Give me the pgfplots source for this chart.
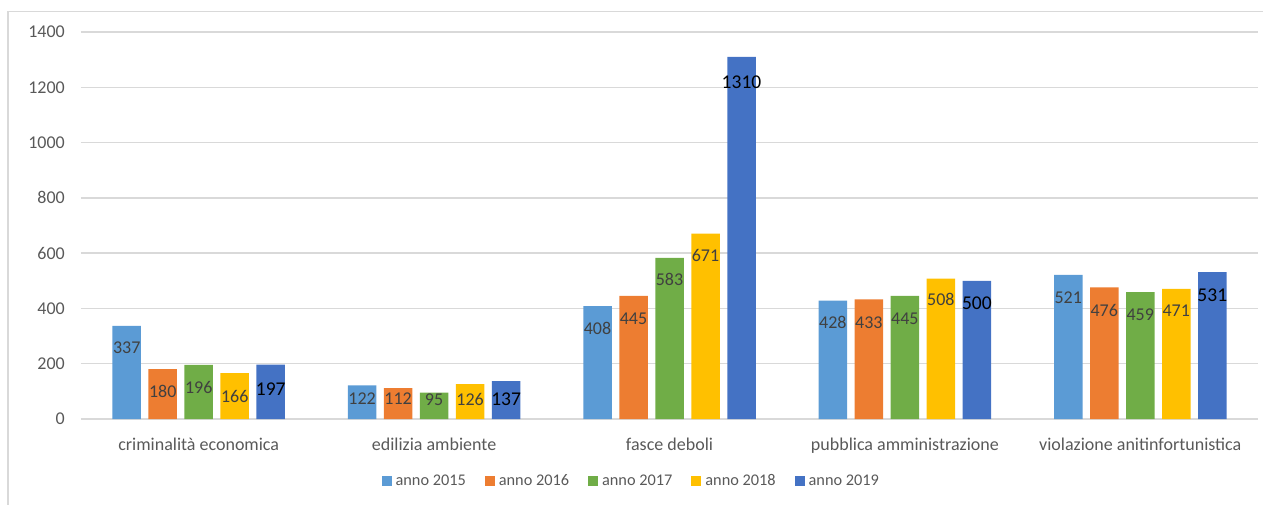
\documentclass[border=0pt]{standalone}
\usepackage{fontspec}
\setmainfont{Carlito}
\usepackage{pgfplots}
\pgfplotsset{compat=1.18}
\usepackage{pgfplotstable}
\definecolor{c15}{HTML}{5B9BD5}
\definecolor{c16}{HTML}{ED7D31}
\definecolor{c17}{HTML}{70AD47}
\definecolor{c18}{HTML}{FFC000}
\definecolor{c19}{HTML}{4472C4}
\definecolor{gridc}{HTML}{D9D9D9}
\definecolor{txt}{HTML}{595959}
\definecolor{lbl}{HTML}{404040}
% x = category index; aYY = value; lYY = height at which the value label is centred
\pgfplotstableread{
x a15 l15 a16 l16 a17 l17 a18 l18 a19 l19
0 337 257 180 99 196 113 166 83 197 109
1 122 72 112 72 95 69 126 72 137 73
2 408 328 445 364 583 505 671 591 1310 1220
3 428 348 433 348 445 362 508 433 500 417
4 521 439 476 392 459 379 471 392 531 449
}\data
\begin{document}
\begin{tikzpicture}
\useasboundingbox (-81pt,-85pt) rectangle (1182pt,419pt);
\draw[gridc, line width=1.2pt] (-73pt,-120pt) -- (-73pt,407.5pt) -- (1220pt,407.5pt);
\begin{axis}[
  scale only axis,
  width=1177pt, height=387pt,
  xmin=-0.5, xmax=4.5, ymin=0, ymax=1400,
  ybar=7.5pt, bar width=28.5pt,
  axis line style={draw=none},
  major tick length=0pt,
  ytick={0,200,...,1400},
  ymajorgrids, major grid style={gridc, line width=1.3pt},
  xtick={0,1,2,3,4},
  xticklabels={criminalità economica, edilizia ambiente, fasce deboli, pubblica amministrazione, violazione anitinfortunistica},
  /pgf/number format/assume math mode=true,
  /pgf/number format/1000 sep={},
  yticklabel style={font=\fontsize{18}{18}\selectfont, text=txt, anchor=east, inner sep=0pt, xshift=-16pt},
  xticklabel style={font=\fontsize{18}{18}\selectfont, text=txt, anchor=base, inner sep=0pt, yshift=-31pt},
  nodes near coords,
  every node near coord/.append style={anchor=center, yshift=\dy pt, inner sep=0pt, font=\fontsize{18}{18}\selectfont, text=lbl},
  legend style={at={(0.4673,-0.1602)}, anchor=center, draw=none, fill=none, legend columns=5,
    font=\fontsize{16.3}{16.3}\selectfont, text=txt,
    /tikz/every odd column/.append style={column sep=2.5pt},
    /tikz/every even column/.append style={column sep=17.5pt},
    nodes={inner sep=1.5pt}},
  legend cell align=left,
  clip=false,
]
\addplot[fill=c15, draw=none, legend image code/.code={\fill[c15] (0pt,-5pt) rectangle (10pt,5pt);},
  visualization depends on={(\thisrow{l15}-\thisrow{a15})*0.276429 \as \dy}] table[x=x,y=a15]{\data};
\addplot[fill=c16, draw=none, legend image code/.code={\fill[c16] (0pt,-5pt) rectangle (10pt,5pt);},
  visualization depends on={(\thisrow{l16}-\thisrow{a16})*0.276429 \as \dy}] table[x=x,y=a16]{\data};
\addplot[fill=c17, draw=none, legend image code/.code={\fill[c17] (0pt,-5pt) rectangle (10pt,5pt);},
  visualization depends on={(\thisrow{l17}-\thisrow{a17})*0.276429 \as \dy}] table[x=x,y=a17]{\data};
\addplot[fill=c18, draw=none, legend image code/.code={\fill[c18] (0pt,-5pt) rectangle (10pt,5pt);},
  visualization depends on={(\thisrow{l18}-\thisrow{a18})*0.276429 \as \dy}] table[x=x,y=a18]{\data};
\addplot[fill=c19, draw=none, legend image code/.code={\fill[c19] (0pt,-5pt) rectangle (10pt,5pt);},
  visualization depends on={(\thisrow{l19}-\thisrow{a19})*0.276429 \as \dy},
  every node near coord/.append style={font=\fontsize{19.5}{19.5}\selectfont, text=black}] table[x=x,y=a19]{\data};
\legend{anno 2015, anno 2016, anno 2017, anno 2018, anno 2019}
\end{axis}
\end{tikzpicture}
\end{document}
